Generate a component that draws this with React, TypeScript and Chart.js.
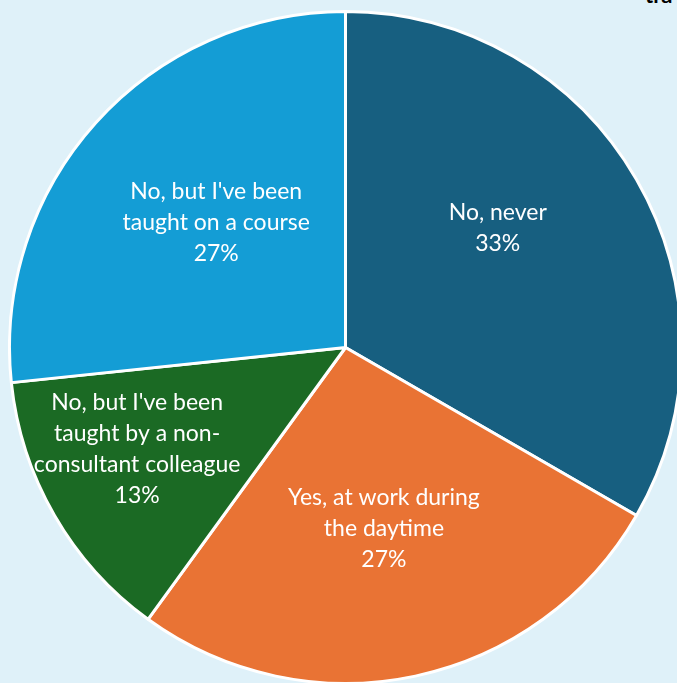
import React, { useEffect, useRef } from "react";
import { Chart, registerables } from "chart.js";

Chart.register(...registerables);

const categories: string[][] = [
  ["No, never"],
  ["Yes, at work during", "the daytime"],
  ["No, but I've been", "taught by a non-", "consultant colleague"],
  ["No, but I've been", "taught on a course"],
];
const counts: number[] = [10, 8, 4, 8];
const percentLabels: string[] = ["33%", "27%", "13%", "27%"];
const sliceColors: string[] = ["#175f80", "#e97334", "#1b6a24", "#149dd5"];

// label placement (angle tweak in degrees, fraction of radius)
const labelPlacement = [
  { dAngle: -8, frac: 0.575 },
  { dAngle: 0, frac: 0.55 },
  { dAngle: 4, frac: 0.69 },
  { dAngle: 2, frac: 0.535 },
];

const labelPlugin = {
  id: "sliceLabels",
  afterDatasetsDraw(chart: any) {
    const ctx = chart.ctx;
    const meta = chart.getDatasetMeta(0);
    ctx.save();
    ctx.fillStyle = "#ffffff";
    ctx.font = "23px Lato";
    ctx.textAlign = "center";
    ctx.textBaseline = "middle";
    const lineH = 31;
    meta.data.forEach((arc: any, i: number) => {
      const p = arc.getProps(["x", "y", "startAngle", "endAngle", "outerRadius"], true);
      const mid = (p.startAngle + p.endAngle) / 2 + (labelPlacement[i].dAngle * Math.PI) / 180;
      const r = p.outerRadius * labelPlacement[i].frac;
      const cx = p.x + Math.cos(mid) * r;
      const cy = p.y + Math.sin(mid) * r;
      const lines = [...categories[i], percentLabels[i]];
      const top = cy - ((lines.length - 1) * lineH) / 2;
      lines.forEach((ln, k) => ctx.fillText(ln, cx, top + k * lineH));
    });
    ctx.restore();
  },
};

export default function App() {
  const ref = useRef<HTMLCanvasElement | null>(null);
  useEffect(() => {
    if (!ref.current) return;
    const chart = new Chart(ref.current, {
      type: "pie",
      data: {
        labels: categories.map((c) => c.join(" ")),
        datasets: [
          {
            data: counts,
            backgroundColor: sliceColors,
            borderColor: "#ffffff",
            borderWidth: 3,
          },
        ],
      },
      options: {
        animation: false,
        responsive: false,
        maintainAspectRatio: false,
        layout: { padding: 0 },
        plugins: {
          legend: { display: false },
          tooltip: { enabled: false },
          title: { display: false },
        },
      },
      plugins: [labelPlugin],
    });
    return () => chart.destroy();
  }, []);

  return (
    <div
      style={{
        position: "fixed",
        left: 0,
        top: 0,
        width: 677,
        height: 683,
        background: "#dff1f9",
        overflow: "hidden",
      }}
    >
      <div
        style={{
          position: "absolute",
          left: 645,
          top: -16,
          font: "bold 22px Lato",
          color: "#000",
          whiteSpace: "nowrap",
          lineHeight: "22px",
        }}
      >
        tra
      </div>
      <canvas
        ref={ref}
        width={675}
        height={675}
        style={{ position: "absolute", left: 8, top: 10, width: 675, height: 675 }}
      />
    </div>
  );
}
